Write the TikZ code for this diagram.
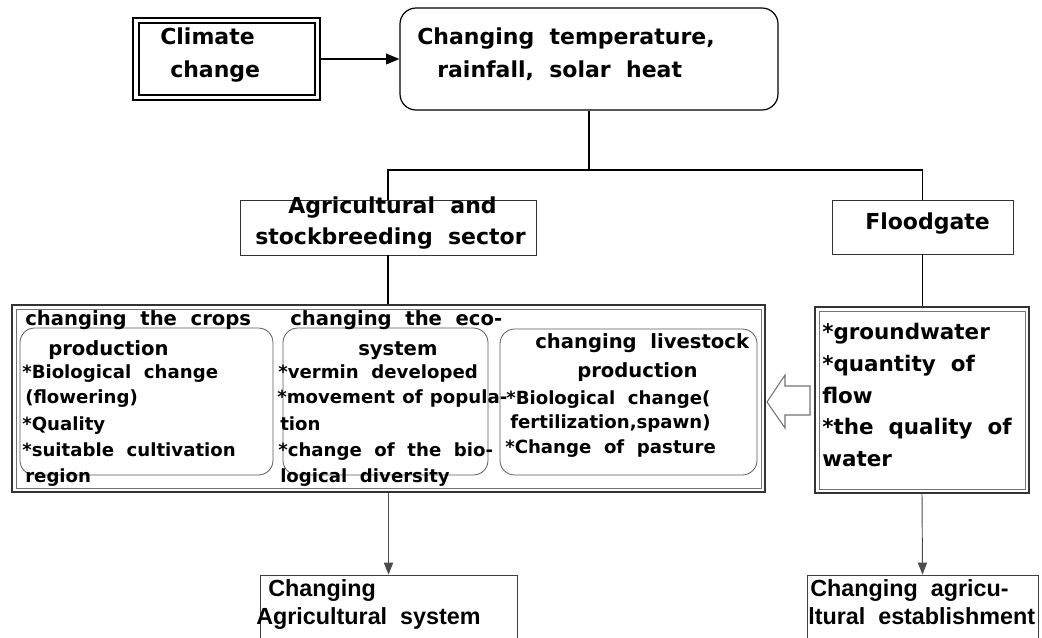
\documentclass[tikz,border=0pt]{standalone}
\usepackage{fontspec}
\setmainfont{DejaVu Sans}[WordSpace=2]
\newfontfamily\botfont{Liberation Sans}[WordSpace=2]
\usetikzlibrary{fit,arrows.meta}
\begin{document}
\begin{tikzpicture}[x=0.75pt,y=-0.75pt,
  box/.style={inner sep=0pt, draw, line width=0.7pt},
  txt/.style={anchor=base west, inner sep=0pt, font=\bfseries\fontsize{16.5}{18}\selectfont},
  ttl/.style={anchor=base west, inner sep=0pt, font=\bfseries\fontsize{14.7}{16}\selectfont},
  bul/.style={anchor=base west, inner sep=0pt, font=\bfseries\fontsize{13.6}{15}\selectfont},
  rtx/.style={anchor=base west, inner sep=0pt, font=\bfseries\fontsize{16.1}{17}\selectfont},
  btx/.style={anchor=base west, inner sep=0pt, font=\botfont\bfseries\fontsize{17.5}{18}\selectfont},
  conn/.style={line width=0.8pt},
  down/.style={draw=black!70, line width=0.7pt, -{Triangle[length=9pt,width=7pt]}},
  rbx/.style={inner sep=0pt, draw=black!65, line width=0.6pt, rounded corners=11pt}
]
\useasboundingbox (0,0) rectangle (1042,637);
\clip (0,0) rectangle (1042,637);

% boxes
\node[fit={(133,18) (320,100)}, box, line width=2.2pt] (clim) {};
\draw[line width=0.9pt] (139,23) rectangle (315,95);
\node[fit={(400,8) (778,110)}, box, line width=0.9pt, rounded corners=12pt] (chg) {};
\node[fit={(240,200) (536,255)}, box, draw=black!80] (agri) {};
\node[fit={(832,200) (1013,254)}, box, draw=black!80] (flood) {};
\node[fit={(12,305) (765,492)}, box, draw=black!80, line width=1.2pt] (big) {};
\draw[black!55, line width=0.6pt] (16,309) rectangle (761,488);
\node[fit={(20,328) (273,475)}, rbx] (b1) {};
\node[fit={(283,328) (488,475)}, rbx] (b2) {};
\node[fit={(500,329) (757,475)}, rbx] (b3) {};
\node[fit={(815,307) (1029,493)}, box, draw=black!80, line width=1.2pt] (rbox) {};
\draw[black!55, line width=0.6pt] (819,311) rectangle (1025,489);
\node[fit={(260,575) (517,660)}, box, draw=black!75] (bl) {};
\node[fit={(807,575) (1038,660)}, box, draw=black!75] (br) {};

% connectors
\draw[line width=1.2pt, -{Triangle[length=10pt,width=8pt]}] (clim.east) -- (chg.west);
\coordinate (j) at (589,170);
\draw[conn] (chg.south) -- (j);
\draw[conn] (agri.north) |- (j);
\draw[conn] (flood.north) |- (j);
\draw[conn] (agri.south) -- (agri.south |- big.north);
\draw[conn] (flood.south) -- (flood.south |- rbox.north);
\draw[down] (big.south) -- (bl.north);
\draw[down] (rbox.south) -- (br.north);

% hollow arrow
\draw[black!55, fill=white, line width=0.8pt] (810,386) -- (785,386) -- (785,375) -- (767,402) -- (785,428) -- (785,415) -- (810,415) -- cycle;

% texts
\node[txt] (t1) at (160,44) {Climate};
\node[txt] (t2) at (170,77) {change};
\node[txt] (t3) at (417,44) {Changing temperature,};
\node[txt] (t4) at (437,77) {rainfall, solar heat};
\node[txt] (t5) at (288,213) {Agricultural and};
\node[txt] (t6) at (255,244) {stockbreeding sector};
\node[txt] (t7) at (865,229) {Floodgate};

\node[ttl] (a1) at (25,325) {changing the crops};
\node[ttl] (a2) at (48,355) {production};
\node[bul] (a3) at (22,378) {*Biological change};
\node[bul] (a4) at (25,403) {(flowering)};
\node[bul] (a5) at (22,430) {*Quality};
\node[bul] (a6) at (22,456) {*suitable cultivation};
\node[bul] (a7) at (25,482) {region};

\node[ttl] (e1) at (290,325) {changing the eco-};
\node[ttl] (e2) at (358,355) {system};
\node[bul] (e3) at (278,378) {*vermin developed};
\node[bul] (e4) at (277,403) {\spaceskip=5.5pt *movement of popula-};
\node[bul] (e5) at (280,430) {tion};
\node[bul] (e6) at (278,456) {*change of the bio-};
\node[bul] (e7) at (280,482) {logical diversity};

\node[ttl] (l1) at (535,348) {changing livestock};
\node[ttl] (l2) at (577,377) {production};
\node[bul] (l3) at (506,404) {*Biological change(};
\node[bul] (l4) at (510,428) {fertilization,spawn)};
\node[bul] (l5) at (505,453) {*Change of pasture};

\node[rtx] (w1) at (822,339) {*groundwater};
\node[rtx] (w2) at (822,371) {*quantity of};
\node[rtx] (w3) at (822,403) {flow};
\node[rtx] (w4) at (822,434) {*the quality of};
\node[rtx] (w5) at (822,466) {water};

\node[btx] (s1) at (268,596) {Changing};
\node[btx] (s2) at (256,624) {Agricultural system};
\node[btx] (s3) at (810,596) {Changing agricu-};
\node[btx] (s4) at (808,624) {ltural establishment};
\end{tikzpicture}
\end{document}
